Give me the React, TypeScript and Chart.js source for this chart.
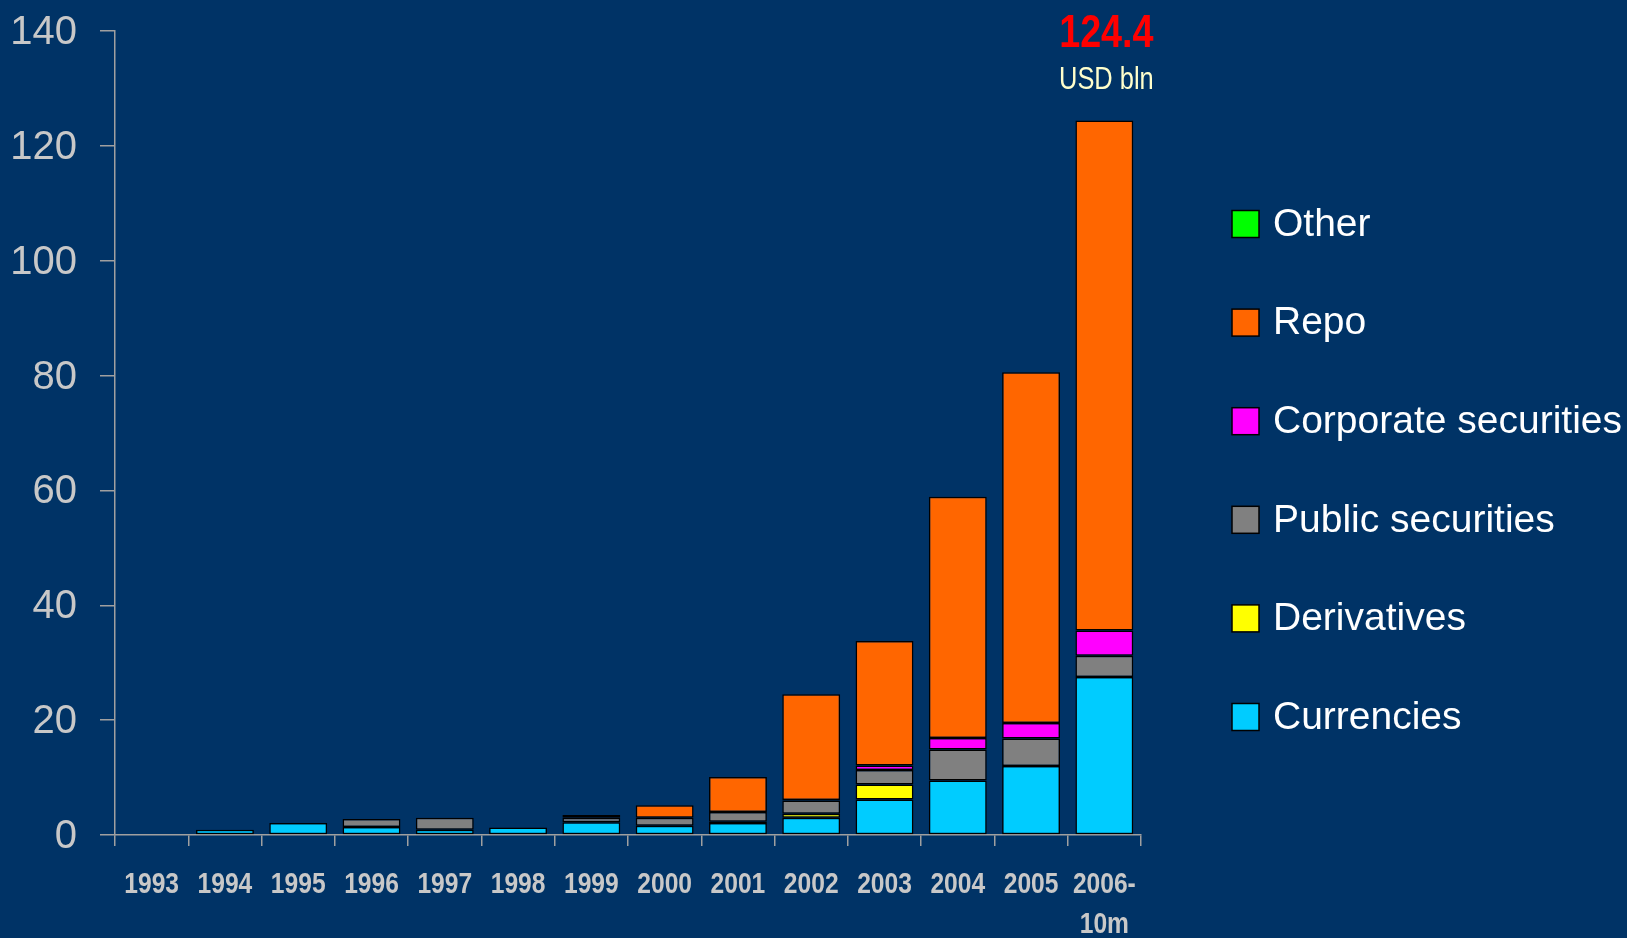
import React, { useEffect, useRef } from "react";
import { Chart, registerables } from "chart.js";

Chart.register(...registerables);

const categories: (string | string[])[] = [
  "1993", "1994", "1995", "1996", "1997", "1998", "1999",
  "2000", "2001", "2002", "2003", "2004", "2005", ["2006-", "10m"],
];
const currencies = [0, 0.9, 2.1, 1.4, 0.9, 1.3, 2.2, 1.6, 2.1, 3.0, 6.2, 9.5, 12.0, 27.5];
const derivatives = [0, 0, 0, 0, 0, 0, 0, 0, 0.2, 0.7, 2.6, 0, 0, 0];
const publicSecurities = [0, 0, 0, 1.4, 2.1, 0, 0.8, 1.4, 1.7, 2.3, 2.5, 5.4, 4.8, 3.7];
const corporateSecurities = [0, 0, 0, 0, 0, 0, 0, 0, 0, 0.1, 0.8, 2.0, 2.7, 4.4];
const repo = [0, 0, 0, 0, 0, 0, 0.5, 2.2, 6.1, 18.4, 21.7, 42.0, 61.1, 88.8];
const other = [0, 0, 0, 0, 0, 0, 0, 0, 0, 0, 0, 0, 0, 0];
const yTicks = [0, 20, 40, 60, 80, 100, 120, 140];
const unitLabel = "USD bln";

const BG = "#003366";
const SANS = "'Liberation Sans', Arial, sans-serif";
const NARROW_SCALE = 0.82;

function narrowText(ctx: CanvasRenderingContext2D, text: string, x: number, y: number) {
  ctx.save();
  ctx.translate(x, y);
  ctx.scale(NARROW_SCALE, 1);
  ctx.fillText(text, 0, 0);
  ctx.restore();
}

const totalLabelPlugin = {
  id: "totalLabel",
  afterDraw(chart: any) {
    const { ctx, scales } = chart;
    const last = categories.length - 1;
    let total = 0;
    chart.data.datasets.forEach((ds: any) => { total += Number(ds.data[last]) || 0; });
    const x = scales.x.getPixelForValue(last) + 2;
    const yTop = scales.y.getPixelForValue(total);
    ctx.save();
    ctx.textAlign = "center";
    ctx.textBaseline = "middle";
    ctx.fillStyle = "#ff0000";
    ctx.font = `bold 46px ${SANS}`;
    narrowText(ctx, total.toFixed(1), x, yTop - 86);
    ctx.fillStyle = "#ffffcc";
    ctx.font = `31px ${SANS}`;
    narrowText(ctx, unitLabel, x, yTop - 40);
    ctx.restore();
  },
};

const xLabelPlugin = {
  id: "xLabels",
  afterDraw(chart: any) {
    const { ctx, scales } = chart;
    const xs = scales.x;
    const base = xs.top + 50;
    ctx.save();
    ctx.textAlign = "center";
    ctx.textBaseline = "middle";
    ctx.fillStyle = "#c8c8c8";
    ctx.font = `bold 30px ${SANS}`;
    categories.forEach((c, i) => {
      const lines = Array.isArray(c) ? c : [c];
      const x = xs.getPixelForValue(i);
      lines.forEach((ln, k) => narrowText(ctx, ln, x, base + k * 40));
    });
    ctx.restore();
  },
};

const legendPlugin = {
  id: "sideLegend",
  afterDraw(chart: any) {
    const { ctx, chartArea } = chart;
    const items = [...chart.data.datasets].reverse();
    const boxLeft = chartArea.right + 91;
    const firstY = chartArea.top + 193;
    const step = 98.6;
    ctx.save();
    ctx.textBaseline = "middle";
    ctx.textAlign = "left";
    ctx.font = `39px ${SANS}`;
    items.forEach((ds: any, i: number) => {
      const cy = firstY + i * step;
      ctx.fillStyle = ds.backgroundColor;
      ctx.fillRect(boxLeft, cy - 13.5, 27, 27);
      ctx.strokeStyle = "#000000";
      ctx.lineWidth = 1.5;
      ctx.strokeRect(boxLeft, cy - 13.5, 27, 27);
      ctx.fillStyle = "#ffffff";
      ctx.fillText(ds.label, boxLeft + 41, cy + 1);
    });
    ctx.restore();
  },
};

export default function App() {
  const ref = useRef<HTMLCanvasElement | null>(null);
  useEffect(() => {
    if (!ref.current) return;
    const mk = (label: string, data: number[], color: string) => ({
      label, data, backgroundColor: color, borderColor: "#000000", borderWidth: 1.5,
      borderSkipped: false as const, categoryPercentage: 1, barPercentage: 0.79,
    });
    const chart = new Chart(ref.current, {
      type: "bar",
      data: {
        labels: categories,
        datasets: [
          mk("Currencies", currencies, "#00ccff"),
          mk("Derivatives", derivatives, "#ffff00"),
          mk("Public securities", publicSecurities, "#808080"),
          mk("Corporate securities", corporateSecurities, "#ff00ff"),
          mk("Repo", repo, "#ff6600"),
          mk("Other", other, "#00ff00"),
        ],
      },
      options: {
        animation: false,
        responsive: true,
        maintainAspectRatio: false,
        layout: { padding: { left: 0, top: 31, right: 486, bottom: 0 } },
        plugins: {
          legend: { display: false },
          tooltip: { enabled: false },
        },
        scales: {
          x: {
            stacked: true,
            grid: { display: true, drawOnChartArea: false, offset: true, color: "#a0a0a0", tickLength: 11, lineWidth: 1.5 },
            border: { display: true, color: "#a0a0a0", width: 1.5 },
            ticks: { display: false, autoSkip: false },
            afterFit: (s: any) => { s.height = 103; s.paddingLeft = 0; s.paddingRight = 0; },
          },
          y: {
            stacked: true,
            min: 0,
            max: 140,
            afterBuildTicks: (s: any) => { s.ticks = yTicks.map((v) => ({ value: v })); },
            grid: { display: true, drawOnChartArea: false, color: "#a0a0a0", tickLength: 15, lineWidth: 1.5 },
            border: { display: true, color: "#a0a0a0", width: 1.5 },
            ticks: {
              color: "#c8c8c8",
              font: { family: SANS, size: 40 },
              padding: 23,
              labelOffset: 2,
            },
            afterFit: (s: any) => { s.width = 115; s.paddingTop = 0; s.paddingBottom = 0; },
          },
        },
      },
      plugins: [totalLabelPlugin, xLabelPlugin, legendPlugin],
    } as any);
    return () => chart.destroy();
  }, []);
  return (
    <div style={{ position: "fixed", left: 0, top: 0, width: 1627, height: 938, background: BG }}>
      <canvas ref={ref} />
    </div>
  );
}
